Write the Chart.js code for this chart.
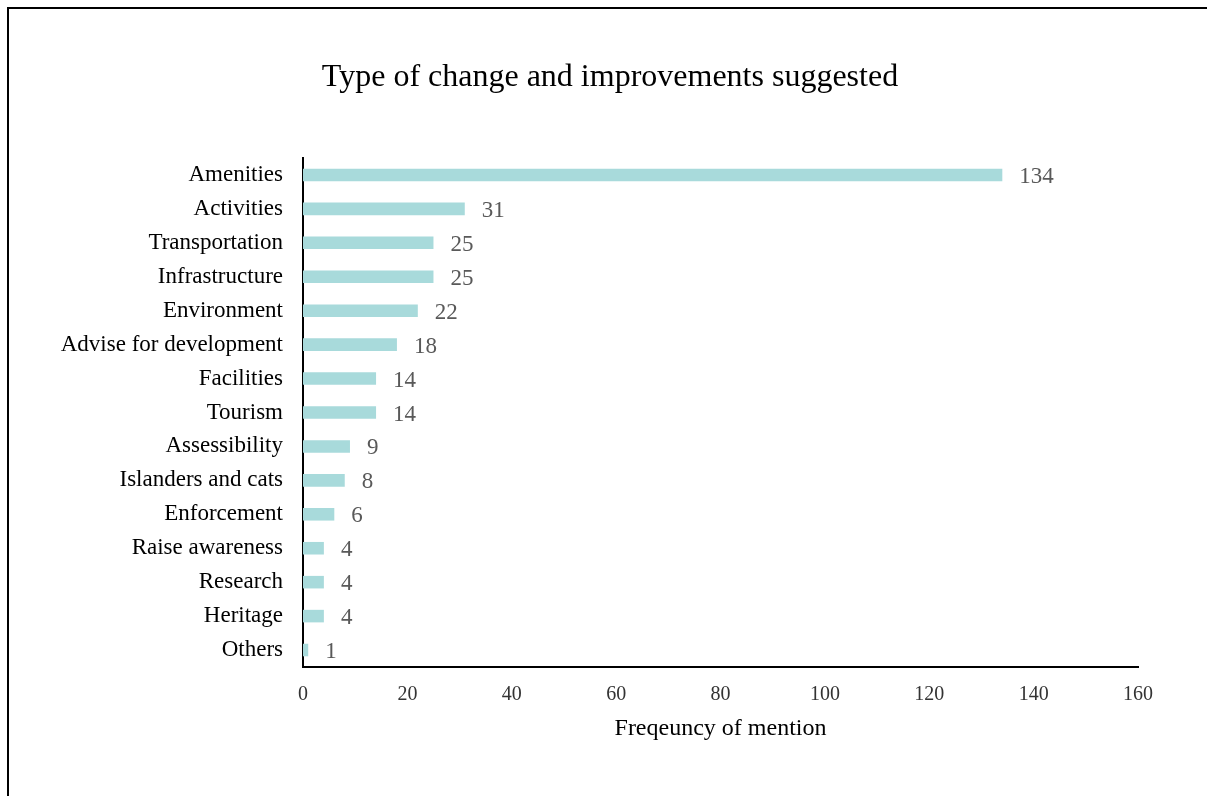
<!DOCTYPE html>
<html>
<head>
<meta charset="utf-8">
<script src="https://cdn.jsdelivr.net/npm/chart.js@4"></script>
<style>
    body { margin: 0; background: #fff; overflow: hidden; }
    #frame { position: absolute; left: 7px; top: 7px; width: 1300px; height: 900px; border: 2px solid #000; }
    #wrap { position: absolute; left: 0; top: 0; width: 1207px; height: 796px; }
</style>
</head>
<body>
<div id="frame"></div>
<div id="wrap"><canvas id="chart"></canvas></div>
<script>
const chartTitle = 'Type of change and improvements suggested';
const categories = ['Amenities', 'Activities', 'Transportation', 'Infrastructure', 'Environment',
    'Advise for development', 'Facilities', 'Tourism', 'Assessibility', 'Islanders and cats',
    'Enforcement', 'Raise awareness', 'Research', 'Heritage', 'Others'];
const mentions = [134, 31, 25, 25, 22, 18, 14, 14, 9, 8, 6, 4, 4, 4, 1];
const xTicks = [0, 20, 40, 60, 80, 100, 120, 140, 160];

const serif = "'Liberation Serif', 'DejaVu Serif', serif";

// draws the number to the right of each bar, and the title (it sits off-centre in the original)
const valueLabels = {
    id: 'valueLabels',
    afterDatasetsDraw(chart) {
        const ctx = chart.ctx;
        const meta = chart.getDatasetMeta(0);
        ctx.save();
        ctx.font = '23px ' + serif;
        ctx.fillStyle = '#595959';
        ctx.textAlign = 'left';
        ctx.textBaseline = 'middle';
        meta.data.forEach((bar, i) => {
            ctx.fillText(String(mentions[i]), bar.x + 17, bar.y + 2);
        });
        ctx.font = '32px ' + serif;
        ctx.fillStyle = '#000';
        ctx.textAlign = 'center';
        ctx.fillText(chartTitle, 610, 78);
        ctx.restore();
    }
};

const ctx = document.getElementById('chart').getContext('2d');
new Chart(ctx, {
    type: 'bar',
    data: {
        labels: categories,
        datasets: [{
            data: mentions,
            backgroundColor: '#a8dadb',
            barPercentage: 0.37,
            categoryPercentage: 1
        }]
    },
    plugins: [valueLabels],
    options: {
        indexAxis: 'y',
        responsive: true,
        maintainAspectRatio: false,
        animation: false,
        layout: {padding: {left: 0, right: 69, top: 158, bottom: 0}},
        plugins: {
            legend: {display: false},
            tooltip: {enabled: false},
            title: {display: false}
        },
        scales: {
            x: {
                min: 0,
                max: 160,
                afterBuildTicks: scale => { scale.ticks = xTicks.map(v => ({value: v})); },
                afterFit: scale => { scale.height = 129; },
                grid: {display: false, drawTicks: false},
                border: {display: true, color: '#000', width: 2},
                ticks: {color: '#333', font: {family: serif, size: 20}, padding: 16},
                title: {
                    display: true,
                    text: 'Freqeuncy of mention',
                    color: '#000',
                    font: {family: serif, size: 24},
                    padding: {top: 0, bottom: 53}
                }
            },
            y: {
                afterFit: scale => { scale.width = 303; },
                grid: {display: false, drawTicks: false},
                border: {display: true, color: '#000', width: 2},
                ticks: {color: '#000', font: {family: serif, size: 23}, padding: 20}
            }
        }
    }
});
</script>
</body>
</html>
